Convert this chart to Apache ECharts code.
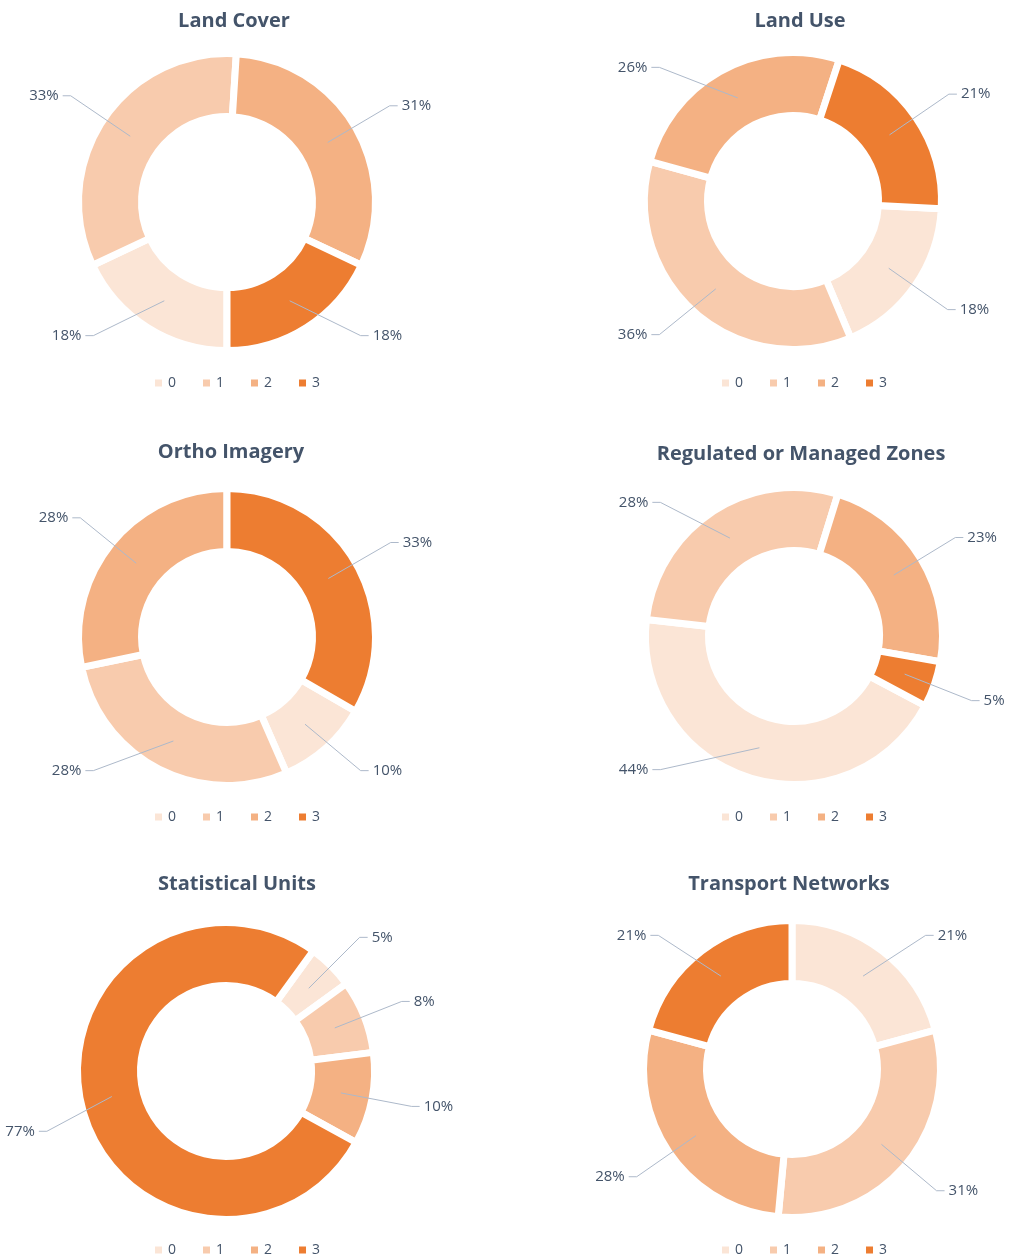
<!DOCTYPE html>
<html>
<head>
<meta charset="utf-8">
<title>Data theme readiness</title>
<script src="https://cdn.jsdelivr.net/npm/echarts@6/dist/echarts.min.js"></script>
<style>
  html, body { margin: 0; padding: 0; background: #ffffff; }
  #chart { width: 1010px; height: 1258px; }
</style>
</head>
<body>
<div id="chart"></div>
<script>
// Score categories shared by every theme
const categories = ['0', '1', '2', '3'];

// Share of datasets per score, in percent
const landCover         = [18, 33, 31, 18];
const landUse           = [18, 36, 26, 21];
const orthoImagery      = [10, 28, 28, 33];
const regulatedZones    = [44, 28, 23, 5];
const statisticalUnits  = [5, 8, 10, 77];
const transportNetworks = [21, 31, 28, 21];

const themeTitles = [
  'Land Cover', 'Land Use', 'Ortho Imagery',
  'Regulated or Managed Zones', 'Statistical Units', 'Transport Networks'
];
const themeValues = [
  landCover, landUse, orthoImagery,
  regulatedZones, statisticalUnits, transportNetworks
];

// Layout of the six donuts (two columns, three rows)
const panels = [
  { cx: 227, cy: 202,  startAngle: -90, titleX: 234, titleY: 22,  legendX: 235, legendY: 383 },
  { cx: 793, cy: 201,  startAngle: -3,  titleX: 800, titleY: 22,  legendX: 802, legendY: 383 },
  { cx: 227, cy: 637,  startAngle: -30, titleX: 231, titleY: 453, legendX: 235, legendY: 817 },
  { cx: 794, cy: 636,  startAngle: -28, titleX: 801, titleY: 455, legendX: 802, legendY: 817 },
  { cx: 226, cy: 1071, startAngle: 54,  titleX: 237, titleY: 885, legendX: 235, legendY: 1250 },
  { cx: 792, cy: 1069, startAngle: 90,  titleX: 789, titleY: 885, legendX: 802, legendY: 1250 }
];

const CANVAS_W = 1010;
const palette = ['#FBE5D6', '#F8CBAD', '#F4B183', '#ED7D31'];
const textColor = '#44546A';
const lineColor = '#ADB9CA';
const fontFamily = '"Open Sans", "Noto Sans", sans-serif';
const LABEL_SIZE = 15;

const OUTER = 145, INNER = 89, GAP = 7;
const MID = (OUTER + INNER) / 2;   // leader lines start half-way across the ring
const LABEL_R = 189;               // radius of the leader-line elbow
const LEG2 = 8;                    // horizontal run of the leader line
const TEXT_PAD = 4;
const EDGE = 5;                    // keep label text this far inside the canvas

// Width of a label string in the label font
const measureCtx = document.createElement('canvas').getContext('2d');
function textWidth(str) {
  measureCtx.font = LABEL_SIZE + 'px ' + fontFamily;
  return measureCtx.measureText(str).width;
}

// Places a slice label beside the ring: the elbow follows the slice's mid angle,
// but is kept out of the cones above and below the donut so text stays to the sides,
// and is swung along the circle when the text would run off the canvas.
function sideLabelLayout(p) {
  return function (params) {
    const pts = params.labelLinePoints;
    if (!pts || !pts.length) { return {}; }
    const sx = pts[0][0], sy = pts[0][1];
    const textW = textWidth(String(params.text));
    let theta = Math.atan2(sx - p.cx, -(sy - p.cy)) * 180 / Math.PI;
    if (theta < 0) { theta += 360; }
    const right = theta <= 180;
    const side = right ? 1 : -1;
    theta = right ? Math.min(135, Math.max(45, theta)) : Math.min(315, Math.max(225, theta));

    const elbowX = (t) => p.cx + LABEL_R * Math.sin(t * Math.PI / 180);
    const fits = (t) => {
      const farX = elbowX(t) + side * (LEG2 + TEXT_PAD + textW);
      return right ? farX <= CANVAS_W - EDGE : farX >= EDGE;
    };
    const horizon = right ? 90 : 270;
    const step = theta >= horizon ? 1 : -1;
    let guard = 0;
    while (!fits(theta) && guard < 45) { theta += step; guard++; }

    const rad = theta * Math.PI / 180;
    const ex = p.cx + LABEL_R * Math.sin(rad);
    const ey = p.cy - LABEL_R * Math.cos(rad);
    const tx = ex + side * LEG2;
    return {
      x: tx + side * TEXT_PAD,
      y: ey,
      align: right ? 'left' : 'right',
      verticalAlign: 'middle',
      labelLinePoints: [[sx, sy], [ex, ey], [tx, ey]]
    };
  };
}

const titles = [];
const legends = [];
const series = [];

panels.forEach((p, i) => {
  const data = categories.map((c, k) => ({ name: c, value: themeValues[i][k] }));

  titles.push({
    text: themeTitles[i],
    left: p.titleX,
    top: p.titleY - 11,
    textAlign: 'center',
    padding: 0,
    textStyle: { color: textColor, fontSize: 20, fontWeight: 'bold', fontFamily }
  });

  legends.push({
    data: categories,
    left: p.legendX - 82,
    top: p.legendY - 7,
    orient: 'horizontal',
    itemWidth: 9,
    itemHeight: 9,
    itemGap: 25,
    padding: 0,
    icon: 'rect',
    selectedMode: false,
    textStyle: { color: textColor, fontSize: 14, fontFamily }
  });

  // Donut ring; white borders open the gaps between slices
  series.push({
    type: 'pie',
    name: themeTitles[i],
    center: [p.cx, p.cy],
    radius: [INNER - GAP / 2, OUTER + GAP / 2],
    startAngle: p.startAngle,
    clockwise: true,
    avoidLabelOverlap: false,
    label: { show: false },
    labelLine: { show: false },
    silent: true,
    itemStyle: {
      color: (params) => palette[params.dataIndex],
      borderColor: '#ffffff',
      borderWidth: GAP
    },
    data: data,
    z: 2
  });

  // Transparent twin whose edge sits mid-ring, so leader lines start inside the slices
  series.push({
    type: 'pie',
    name: themeTitles[i] + ' labels',
    center: [p.cx, p.cy],
    radius: [0, MID],
    startAngle: p.startAngle,
    clockwise: true,
    silent: true,
    avoidLabelOverlap: false,
    legendHoverLink: false,
    itemStyle: { color: 'rgba(0,0,0,0)', borderWidth: 0 },
    label: {
      show: true,
      position: 'outside',
      formatter: (params) => params.value + '%',
      color: textColor,
      fontSize: LABEL_SIZE,
      fontFamily,
      width: 44,
      overflow: 'none'
    },
    labelLine: {
      show: true,
      length: 30,
      length2: 8,
      lineStyle: { color: lineColor, width: 1 }
    },
    labelLayout: sideLabelLayout(p),
    data: data,
    z: 3
  });
});

const chart = echarts.init(document.getElementById('chart'), null, { renderer: 'canvas' });
chart.setOption({
  backgroundColor: '#ffffff',
  animation: false,
  color: palette,
  title: titles,
  legend: legends,
  series: series
});
</script>
</body>
</html>
